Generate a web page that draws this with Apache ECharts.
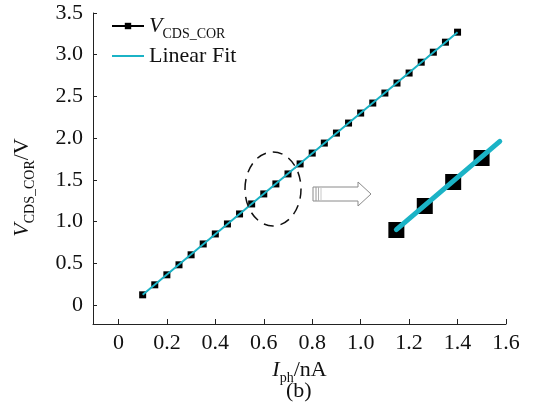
<!DOCTYPE html>
<html>
<head>
<meta charset="utf-8">
<script src="https://cdn.jsdelivr.net/npm/echarts@6/dist/echarts.min.js"></script>
<style>html,body{margin:0;padding:0;background:#fff}#c{width:534px;height:413px}</style>
</head>
<body>
<div id="c"></div>
<script>
// ---- data ----
const xVals = [0.10,0.15,0.20,0.25,0.30,0.35,0.40,0.45,0.50,0.55,0.60,0.65,0.70,0.75,0.80,0.85,0.90,0.95,1.00,1.05,1.10,1.15,1.20,1.25,1.30,1.35,1.40];
const vVals = [0.12,0.24,0.36,0.48,0.60,0.73,0.85,0.97,1.09,1.21,1.33,1.45,1.57,1.69,1.82,1.94,2.06,2.18,2.30,2.42,2.54,2.66,2.78,2.91,3.03,3.15,3.27];
const fitSlope = 2.423;
const fitIntercept = -0.122;
const fitRange = [0.10, 1.40];
const insetIdx = [10, 11, 12, 13];
const insetFitRange = [0.60, 0.782];
const xTicks = [0, 0.2, 0.4, 0.6, 0.8, 1.0, 1.2, 1.4, 1.6];
const yTicks = [0, 0.5, 1.0, 1.5, 2.0, 2.5, 3.0, 3.5];
const seriesName = 'V_CDS_COR';
const fitName = 'Linear Fit';

const FONT = 'Liberation Serif';
const CYAN = '#1bb3c6';
const fmt = v => (Math.abs(v) < 1e-9 ? '0' : v.toFixed(1));
const mainData = xVals.map((x, i) => [x, vVals[i]]);
const fitLine = r => r.map(x => [x, fitIntercept + fitSlope * x]);
const insetData = insetIdx.map(i => [xVals[i], vVals[i]]);

const chart = echarts.init(document.getElementById('c'), null, {renderer: 'canvas'});
const richBase = {
  i: {fontFamily: FONT, fontStyle: 'italic', fontSize: 22, color: '#111', lineHeight: 26, verticalAlign: 'middle'},
  s: {fontFamily: FONT, fontSize: 14, color: '#111', lineHeight: 26, verticalAlign: 'bottom', padding: [0, 0, -2, 0]},
  n: {fontFamily: FONT, fontSize: 22, color: '#111', lineHeight: 26, verticalAlign: 'middle'},
  t: {fontFamily: FONT, fontSize: 22, color: '#111', lineHeight: 26, verticalAlign: 'middle'}
};

const option = {
  animation: false,
  backgroundColor: '#fff',
  grid: [
    {left: 93, top: 13, right: 28, bottom: 89, containLabel: false},
    {left: 385, top: 136, width: 125, height: 110, containLabel: false}
  ],
  legend: {
    data: [seriesName, {name: fitName, itemStyle: {opacity: 0}}],
    orient: 'vertical',
    left: 106, top: 10,
    itemWidth: 32, itemHeight: 8, itemGap: 4,
    formatter: name => name === seriesName ? '{i|V}{s|CDS_COR}' : '{t|Linear Fit}',
    textStyle: {rich: richBase}
  },
  xAxis: [
    {
      type: 'value', gridIndex: 0, min: -0.105, max: 1.6,
      name: '{i|I}{s|ph}{n|/nA}', nameLocation: 'middle', nameGap: 29,
      nameTextStyle: {rich: richBase},
      axisLine: {show: true, onZero: false, lineStyle: {color: '#222', width: 1}},
      axisTick: {show: true, inside: true, length: 5, customValues: xTicks, lineStyle: {color: '#222'}},
      axisLabel: {customValues: xTicks, formatter: fmt, fontFamily: FONT, fontSize: 22, color: '#111', margin: 8},
      splitLine: {show: false}
    },
    {type: 'value', gridIndex: 1, min: 0.58, max: 0.80, show: false}
  ],
  yAxis: [
    {
      type: 'value', gridIndex: 0, min: -0.23, max: 3.5,
      name: '{i|V}{s|CDS_COR}{n|/V}', nameLocation: 'middle', nameGap: 58, nameRotate: 90,
      nameTextStyle: {rich: richBase, padding: [0, 38, 0, 0]},
      axisLine: {show: true, onZero: false, lineStyle: {color: '#222', width: 1}},
      axisTick: {show: true, inside: true, length: 4, customValues: yTicks, lineStyle: {color: '#222'}},
      axisLabel: {customValues: yTicks, formatter: fmt, fontFamily: FONT, fontSize: 22, color: '#111', margin: 10},
      splitLine: {show: false}
    },
    {type: 'value', gridIndex: 1, min: 1.25, max: 1.80, show: false}
  ],
  series: [
    {
      name: seriesName, type: 'line', xAxisIndex: 0, yAxisIndex: 0,
      data: mainData, symbol: 'rect', symbolSize: 7, showSymbol: true,
      itemStyle: {color: '#000'}, lineStyle: {color: '#000', width: 1}, z: 2
    },
    {
      name: fitName, type: 'line', xAxisIndex: 0, yAxisIndex: 0,
      data: fitLine(fitRange), symbol: 'none', showSymbol: false,
      itemStyle: {color: CYAN}, lineStyle: {color: CYAN, width: 2}, z: 3
    },
    {
      name: 'inset', type: 'scatter', xAxisIndex: 1, yAxisIndex: 1,
      data: insetData, symbol: 'rect', symbolSize: 16,
      itemStyle: {color: '#000', opacity: 1}, z: 2
    },
    {
      name: 'insetFit', type: 'line', xAxisIndex: 1, yAxisIndex: 1,
      data: fitLine(insetFitRange), symbol: 'none', showSymbol: false,
      lineStyle: {color: CYAN, width: 5, cap: 'round'}, z: 3
    }
  ],
  graphic: [
    {type: 'ellipse', shape: {cx: 273, cy: 189, rx: 28, ry: 37},
     style: {fill: 'none', stroke: '#111', lineWidth: 1.5, lineDash: [10, 7]}, z: 10},
    {type: 'polygon', shape: {points: [[313, 187], [358, 187], [358, 182], [371, 194], [358, 206], [358, 201], [313, 201]]},
     style: {fill: '#fff', stroke: '#8a8a8a', lineWidth: 1}, z: 10},
    {type: 'line', shape: {x1: 316, y1: 187, x2: 316, y2: 201}, style: {stroke: '#9a9a9a', lineWidth: 1}, z: 11},
    {type: 'line', shape: {x1: 318.5, y1: 187, x2: 318.5, y2: 201}, style: {stroke: '#b0b0b0', lineWidth: 1}, z: 11},
    {type: 'line', shape: {x1: 321, y1: 187, x2: 321, y2: 201}, style: {stroke: '#c8c8c8', lineWidth: 1}, z: 11},
    {type: 'text', left: 286, top: 380,
     style: {text: '(b)', font: '22px "Liberation Serif"', fill: '#111'}, z: 10}
  ]
};
chart.setOption(option);
</script>
</body>
</html>
